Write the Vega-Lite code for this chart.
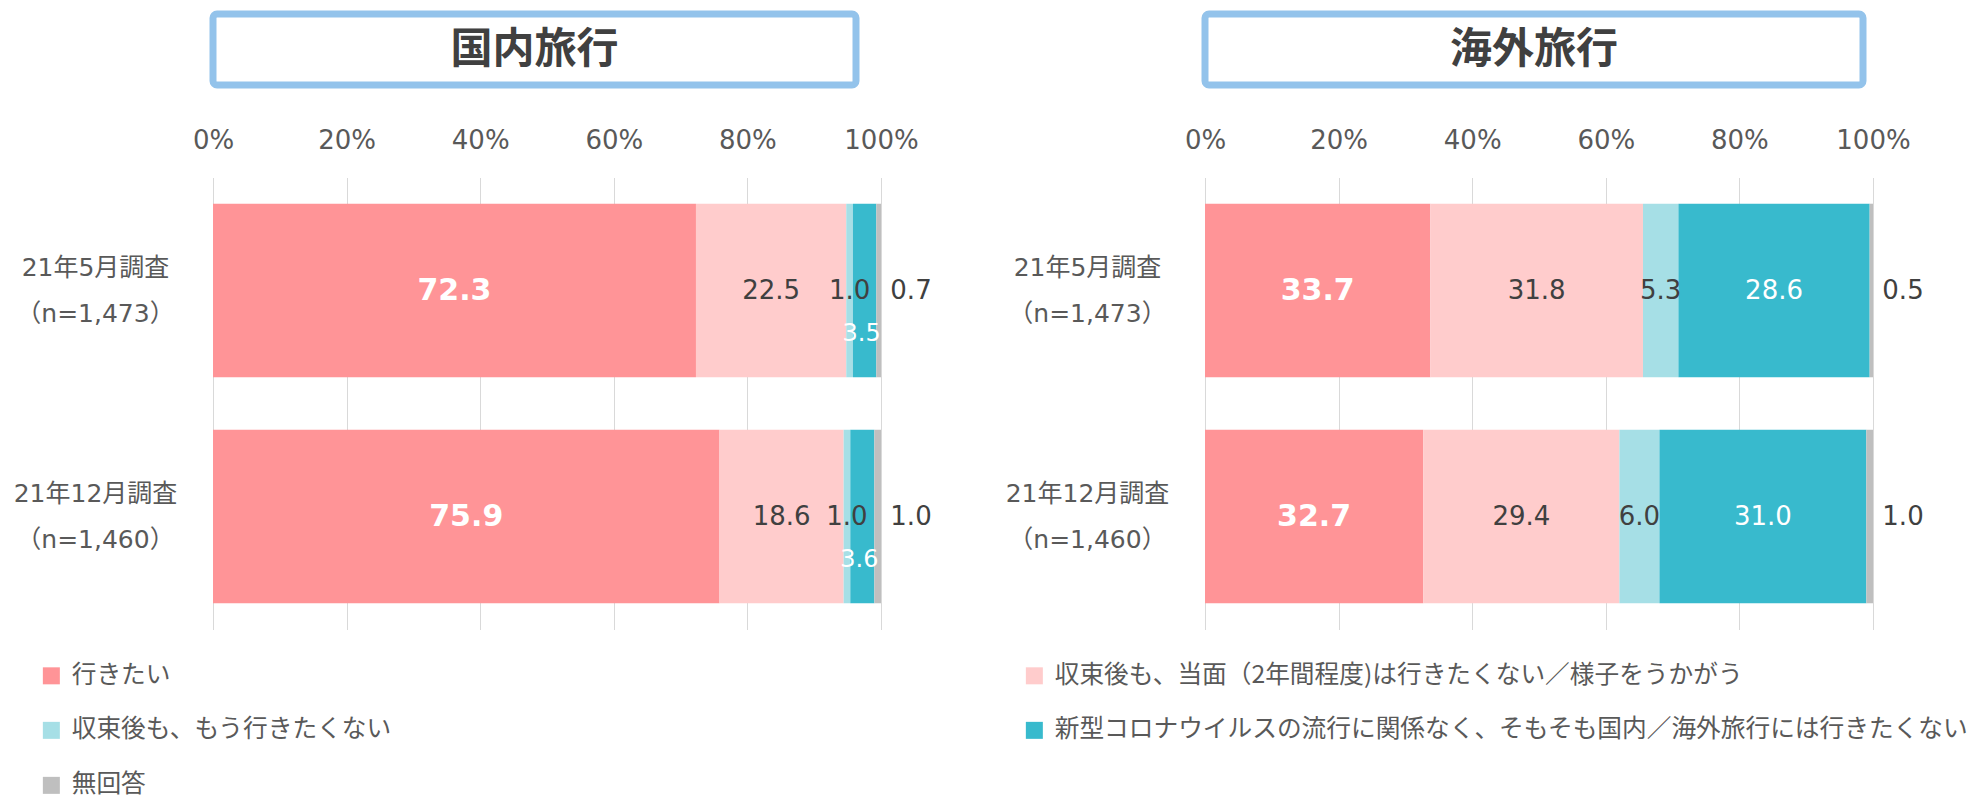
{
  "$schema": "https://vega.github.io/schema/vega-lite/v6.json",
  "background": "white",
  "padding": {"left": 13, "top": 10, "right": 0, "bottom": 0},
  "config": {
    "view": {"stroke": null},
    "font": "DejaVu Sans, Noto Sans CJK JP",
    "legend": {"padding": 0}
  },
  "datasets": {
    "d": [
      {"panel": "国内", "survey": "21年5月調査（n=1,473）", "cat": "行きたい", "k": 1, "v": 72.3},
      {"panel": "国内", "survey": "21年5月調査（n=1,473）", "cat": "収束後も、当面（2年間程度)は行きたくない／様子をうかがう", "k": 2, "v": 22.5},
      {"panel": "国内", "survey": "21年5月調査（n=1,473）", "cat": "収束後も、もう行きたくない", "k": 3, "v": 1.0},
      {"panel": "国内", "survey": "21年5月調査（n=1,473）", "cat": "新型コロナウイルスの流行に関係なく、そもそも国内／海外旅行には行きたくない", "k": 4, "v": 3.5},
      {"panel": "国内", "survey": "21年5月調査（n=1,473）", "cat": "無回答", "k": 5, "v": 0.7},
      {"panel": "国内", "survey": "21年12月調査（n=1,460）", "cat": "行きたい", "k": 1, "v": 75.9},
      {"panel": "国内", "survey": "21年12月調査（n=1,460）", "cat": "収束後も、当面（2年間程度)は行きたくない／様子をうかがう", "k": 2, "v": 18.6},
      {"panel": "国内", "survey": "21年12月調査（n=1,460）", "cat": "収束後も、もう行きたくない", "k": 3, "v": 1.0},
      {"panel": "国内", "survey": "21年12月調査（n=1,460）", "cat": "新型コロナウイルスの流行に関係なく、そもそも国内／海外旅行には行きたくない", "k": 4, "v": 3.6},
      {"panel": "国内", "survey": "21年12月調査（n=1,460）", "cat": "無回答", "k": 5, "v": 1.0},
      {"panel": "海外", "survey": "21年5月調査（n=1,473）", "cat": "行きたい", "k": 1, "v": 33.7},
      {"panel": "海外", "survey": "21年5月調査（n=1,473）", "cat": "収束後も、当面（2年間程度)は行きたくない／様子をうかがう", "k": 2, "v": 31.8},
      {"panel": "海外", "survey": "21年5月調査（n=1,473）", "cat": "収束後も、もう行きたくない", "k": 3, "v": 5.3},
      {"panel": "海外", "survey": "21年5月調査（n=1,473）", "cat": "新型コロナウイルスの流行に関係なく、そもそも国内／海外旅行には行きたくない", "k": 4, "v": 28.6},
      {"panel": "海外", "survey": "21年5月調査（n=1,473）", "cat": "無回答", "k": 5, "v": 0.5},
      {"panel": "海外", "survey": "21年12月調査（n=1,460）", "cat": "行きたい", "k": 1, "v": 32.7},
      {"panel": "海外", "survey": "21年12月調査（n=1,460）", "cat": "収束後も、当面（2年間程度)は行きたくない／様子をうかがう", "k": 2, "v": 29.4},
      {"panel": "海外", "survey": "21年12月調査（n=1,460）", "cat": "収束後も、もう行きたくない", "k": 3, "v": 6.0},
      {"panel": "海外", "survey": "21年12月調査（n=1,460）", "cat": "新型コロナウイルスの流行に関係なく、そもそも国内／海外旅行には行きたくない", "k": 4, "v": 31.0},
      {"panel": "海外", "survey": "21年12月調査（n=1,460）", "cat": "無回答", "k": 5, "v": 1.0}
    ]
  },
  "spacing": 73,
  "hconcat": [
    {
      "vconcat": [
        {
          "data": {"values": [{"t": "国内旅行"}]},
          "width": 643,
          "height": 71,
          "view": {"stroke": "#93C3EB", "strokeWidth": 7, "cornerRadius": 4, "fill": "white"},
          "mark": {"type": "text", "fontSize": 42, "fontWeight": "bold", "font": "Noto Sans CJK JP", "color": "#404040", "baseline": "middle", "align": "center"},
          "encoding": {"text": {"field": "t"}}
        },
        {
          "data": {"name": "d"},
          "transform": [{"filter": "datum.panel == '国内'"}],
          "width": 668,
          "height": 452,
          "encoding": {
            "y": {
              "field": "survey", "type": "nominal",
              "sort": ["21年5月調査（n=1,473）", "21年12月調査（n=1,460）"],
              "scale": {"paddingInner": 0.232, "paddingOuter": 0.116},
              "axis": {"title": null, "ticks": false, "tickSize": 0, "domain": false, "labelAlign": "center", "labelBaseline": "middle", "labelPadding": 118, "labelOffset": -23, "labelFontSize": 25, "labelLineHeight": 46, "labelColor": "#595959", "labelLimit": 400,
                "labelExpr": "[slice(datum.label, 0, indexof(datum.label, '（')), slice(datum.label, indexof(datum.label, '（'))]"}
            },
            "order": {"field": "k", "type": "quantitative"}
          },
          "layer": [
            {
              "mark": {"type": "bar"},
              "encoding": {
                "x": {"field": "v", "type": "quantitative", "stack": "normalize", "scale": {"domain": [0, 1], "nice": false},
                  "axis": {"orient": "top", "title": null, "format": "%", "values": [0, 0.2, 0.4, 0.6, 0.8, 1], "grid": true, "gridColor": "#D9D9D9", "gridWidth": 1, "domain": false, "ticks": false, "tickSize": 0, "labelPadding": 24.5, "labelFontSize": 26, "labelColor": "#595959", "labelFlush": false}},
                "color": {
                  "field": "cat", "type": "nominal",
                  "scale": {
                    "domain": ["行きたい", "収束後も、もう行きたくない", "無回答", "収束後も、当面（2年間程度)は行きたくない／様子をうかがう", "新型コロナウイルスの流行に関係なく、そもそも国内／海外旅行には行きたくない"],
                    "range": ["#FF9497", "#A6DFE6", "#BFBFBF", "#FFCCCC", "#38BACD"]
                  },
                  "legend": {"orient": "none", "legendX": -174, "legendY": 649, "columns": 2, "columnPadding": 630, "rowPadding": 29, "gridAlign": "each", "title": null, "symbolType": "square", "symbolSize": 289, "symbolStrokeWidth": 0, "symbolOpacity": 1, "labelFontSize": 24.7, "labelFont": "Noto Sans CJK JP", "labelColor": "#595959", "labelLimit": 1500, "labelOffset": 8}
                }
              }
            },
            {
              "mark": {"type": "text", "color": "white", "fontWeight": "bold", "fontSize": 30, "baseline": "middle", "align": "center"},
              "encoding": {
                "x": {"field": "v", "type": "quantitative", "stack": "normalize", "bandPosition": 0.5},
                "detail": {"field": "cat"},
                "text": {"condition": {"test": "datum.k == 1", "field": "v", "type": "quantitative", "format": ".1f"}, "value": ""}
              }
            },
            {
              "mark": {"type": "text", "color": "#404040", "fontSize": 26, "baseline": "middle", "align": "center"},
              "encoding": {
                "x": {"field": "v", "type": "quantitative", "stack": "normalize", "bandPosition": 0.5},
                "detail": {"field": "cat"},
                "text": {"condition": {"test": "datum.k == 2 || datum.k == 3", "field": "v", "type": "quantitative", "format": ".1f"}, "value": ""}
              }
            },
            {
              "mark": {"type": "text", "color": "white", "fontSize": 24, "baseline": "middle", "align": "center", "dy": 43, "dx": -3},
              "encoding": {
                "x": {"field": "v", "type": "quantitative", "stack": "normalize", "bandPosition": 0.5},
                "detail": {"field": "cat"},
                "text": {"condition": {"test": "datum.k == 4", "field": "v", "type": "quantitative", "format": ".1f"}, "value": ""}
              }
            },
            {
              "mark": {"type": "text", "color": "#404040", "fontSize": 26, "baseline": "middle", "align": "center", "dx": 30},
              "encoding": {
                "x": {"field": "v", "type": "quantitative", "stack": "normalize", "bandPosition": 1},
                "detail": {"field": "cat"},
                "text": {"condition": {"test": "datum.k == 5", "field": "v", "type": "quantitative", "format": ".1f"}, "value": ""}
              }
            }
          ]
        }
      ],
      "spacing": 92.5,
      "bounds": "flush"
    },
    {
      "vconcat": [
        {
          "data": {"values": [{"t": "海外旅行"}]},
          "width": 658,
          "height": 71,
          "view": {"stroke": "#93C3EB", "strokeWidth": 7, "cornerRadius": 4, "fill": "white"},
          "mark": {"type": "text", "fontSize": 42, "fontWeight": "bold", "font": "Noto Sans CJK JP", "color": "#404040", "baseline": "middle", "align": "center"},
          "encoding": {"text": {"field": "t"}}
        },
        {
          "data": {"name": "d"},
          "transform": [{"filter": "datum.panel == '海外'"}],
          "width": 668,
          "height": 452,
          "encoding": {
            "y": {
              "field": "survey", "type": "nominal",
              "sort": ["21年5月調査（n=1,473）", "21年12月調査（n=1,460）"],
              "scale": {"paddingInner": 0.232, "paddingOuter": 0.116},
              "axis": {"title": null, "ticks": false, "tickSize": 0, "domain": false, "labelAlign": "center", "labelBaseline": "middle", "labelPadding": 118, "labelOffset": -23, "labelFontSize": 25, "labelLineHeight": 46, "labelColor": "#595959", "labelLimit": 400,
                "labelExpr": "[slice(datum.label, 0, indexof(datum.label, '（')), slice(datum.label, indexof(datum.label, '（'))]"}
            },
            "order": {"field": "k", "type": "quantitative"}
          },
          "layer": [
            {
              "mark": {"type": "bar"},
              "encoding": {
                "x": {"field": "v", "type": "quantitative", "stack": "normalize", "scale": {"domain": [0, 1], "nice": false},
                  "axis": {"orient": "top", "title": null, "format": "%", "values": [0, 0.2, 0.4, 0.6, 0.8, 1], "grid": true, "gridColor": "#D9D9D9", "gridWidth": 1, "domain": false, "ticks": false, "tickSize": 0, "labelPadding": 24.5, "labelFontSize": 26, "labelColor": "#595959", "labelFlush": false}},
                "color": {
                  "field": "cat", "type": "nominal",
                  "scale": {
                    "domain": ["行きたい", "収束後も、もう行きたくない", "無回答", "収束後も、当面（2年間程度)は行きたくない／様子をうかがう", "新型コロナウイルスの流行に関係なく、そもそも国内／海外旅行には行きたくない"],
                    "range": ["#FF9497", "#A6DFE6", "#BFBFBF", "#FFCCCC", "#38BACD"]
                  },
                  "legend": {"orient": "none", "legendX": -174, "legendY": 649, "columns": 2, "columnPadding": 630, "rowPadding": 29, "gridAlign": "each", "title": null, "symbolType": "square", "symbolSize": 289, "symbolStrokeWidth": 0, "symbolOpacity": 1, "labelFontSize": 24.7, "labelFont": "Noto Sans CJK JP", "labelColor": "#595959", "labelLimit": 1500, "labelOffset": 8}
                }
              }
            },
            {
              "mark": {"type": "text", "color": "white", "fontWeight": "bold", "fontSize": 30, "baseline": "middle", "align": "center"},
              "encoding": {
                "x": {"field": "v", "type": "quantitative", "stack": "normalize", "bandPosition": 0.5},
                "detail": {"field": "cat"},
                "text": {"condition": {"test": "datum.k == 1", "field": "v", "type": "quantitative", "format": ".1f"}, "value": ""}
              }
            },
            {
              "mark": {"type": "text", "color": "#404040", "fontSize": 26, "baseline": "middle", "align": "center"},
              "encoding": {
                "x": {"field": "v", "type": "quantitative", "stack": "normalize", "bandPosition": 0.5},
                "detail": {"field": "cat"},
                "text": {"condition": {"test": "datum.k == 2 || datum.k == 3", "field": "v", "type": "quantitative", "format": ".1f"}, "value": ""}
              }
            },
            {
              "mark": {"type": "text", "color": "white", "fontSize": 26, "baseline": "middle", "align": "center"},
              "encoding": {
                "x": {"field": "v", "type": "quantitative", "stack": "normalize", "bandPosition": 0.5},
                "detail": {"field": "cat"},
                "text": {"condition": {"test": "datum.k == 4", "field": "v", "type": "quantitative", "format": ".1f"}, "value": ""}
              }
            },
            {
              "mark": {"type": "text", "color": "#404040", "fontSize": 26, "baseline": "middle", "align": "center", "dx": 30},
              "encoding": {
                "x": {"field": "v", "type": "quantitative", "stack": "normalize", "bandPosition": 1},
                "detail": {"field": "cat"},
                "text": {"condition": {"test": "datum.k == 5", "field": "v", "type": "quantitative", "format": ".1f"}, "value": ""}
              }
            }
          ]
        }
      ],
      "spacing": 92.5,
      "bounds": "flush"
    }
  ]
}
